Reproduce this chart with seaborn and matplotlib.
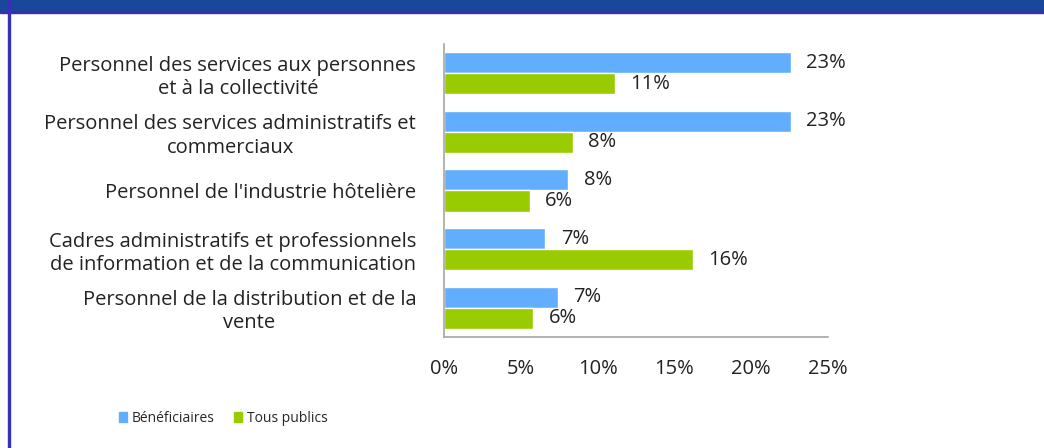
import matplotlib
matplotlib.use("Agg")
import matplotlib.pyplot as plt
import matplotlib.patches as mpatches
import pandas as pd
import seaborn as sns

# data
categories = [
    "Personnel des services aux personnes\net à la collectivité",
    "Personnel des services administratifs et\ncommerciaux",
    "Personnel de l'industrie hôtelière",
    "Cadres administratifs et professionnels\nde information et de la communication",
    "Personnel de la distribution et de la\nvente",
]
beneficiaires = [22.6, 22.6, 8.1, 6.6, 7.4]
tous_publics = [11.1, 8.4, 5.6, 16.2, 5.8]
series_names = ["Bénéficiaires", "Tous publics"]
colors = ["#61aefe", "#99cc00"]
xticks = [0, 5, 10, 15, 20, 25]

df = pd.DataFrame({
    "cat": categories * 2,
    "val": beneficiaires + tous_publics,
    "serie": [series_names[0]] * 5 + [series_names[1]] * 5,
})

sns.set_style("white")
plt.rcParams["font.family"] = ["Open Sans", "DejaVu Sans"]

fig = plt.figure(figsize=(10.44, 4.48), dpi=100)
ax = fig.add_axes([0.4253, 0.2478, 0.3678, 0.654])

sns.barplot(data=df, y="cat", x="val", hue="serie", palette=colors,
            orient="h", width=0.72, saturation=1, ax=ax, legend=False)

for cont in ax.containers:
    ax.bar_label(cont, labels=[f"{round(v)}%" for v in cont.datavalues],
                 padding=11, fontsize=14.5, color="#222222")

ax.set_xlim(0, 25)
ax.set_xticks(xticks)
ax.set_xticklabels([f"{t}%" for t in xticks], fontsize=14.5, color="#222222")
ax.tick_params(axis="x", pad=16, length=0)
ax.tick_params(axis="y", length=0, pad=20)
for lab in ax.get_yticklabels():
    lab.set_fontsize(14.5)
    lab.set_multialignment("center")
    lab.set_color("#222222")
    lab.set_linespacing(1.22)
ax.set_xlabel("")
ax.set_ylabel("")
for s in ["top", "right"]:
    ax.spines[s].set_visible(False)
for s in ["left", "bottom"]:
    ax.spines[s].set_color("#a6a6a6")
    ax.spines[s].set_linewidth(1.2)

# legend, small text as in the original
handles = [mpatches.Patch(color=c, label=n) for c, n in zip(colors, series_names)]
fig.legend(handles=handles, loc="center", bbox_to_anchor=(0.214, 0.066), ncol=2,
           frameon=False, handlelength=0.55, handleheight=0.75,
           handletextpad=0.35, columnspacing=1.4, fontsize=10)

# frame decoration: header band and left border
fig.patches.append(mpatches.Rectangle((0, 1 - 11 / 448), 1, 11 / 448,
                                      transform=fig.transFigure, color="#17489a"))
fig.patches.append(mpatches.Rectangle((0, 1 - 13 / 448), 1, 2 / 448,
                                      transform=fig.transFigure, color="#3a30a8"))
fig.patches.append(mpatches.Rectangle((8 / 1044, 0), 2 / 1044, 1,
                                      transform=fig.transFigure, color="#3a30b8"))

fig.savefig("out.png", dpi=100)
